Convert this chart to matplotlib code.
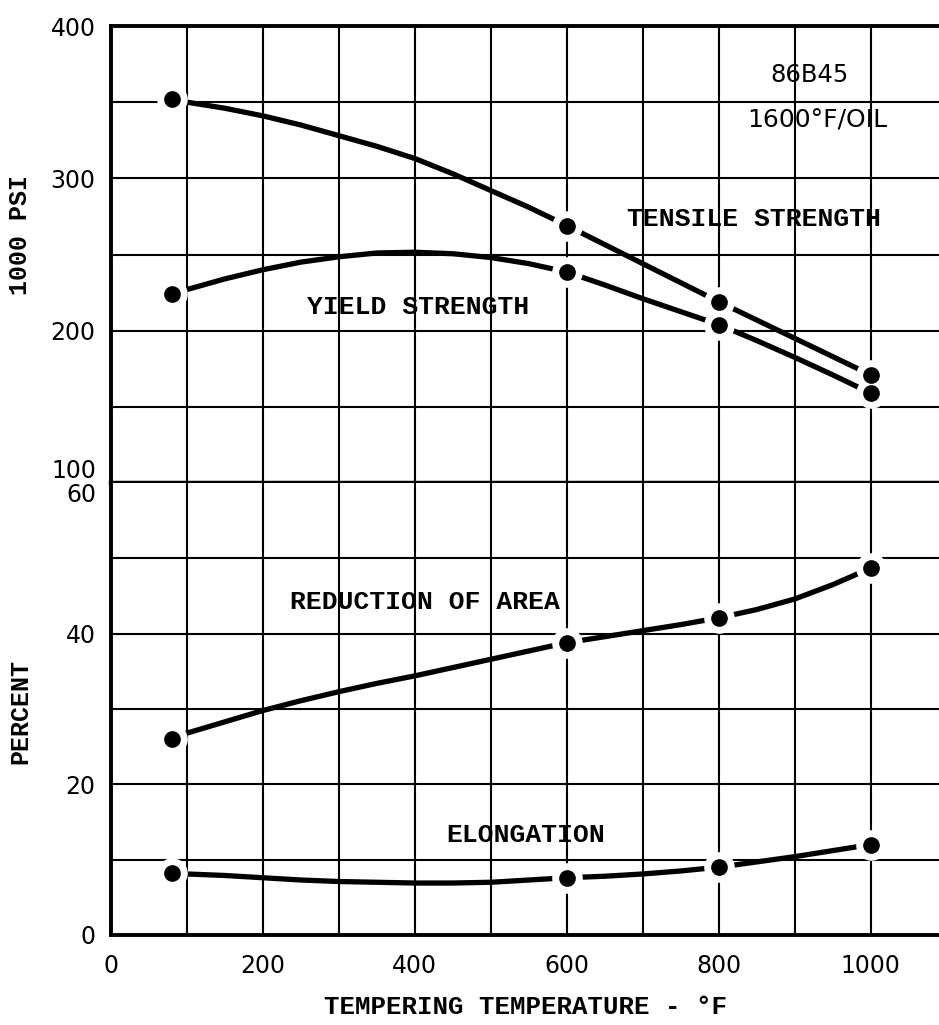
import matplotlib
matplotlib.use("Agg")
import matplotlib.pyplot as plt

# measured points (tempering temperature, deg F)
temps = [80, 600, 800, 1000]
tensile = [352, 269, 219, 171]
yield_strength = [224, 238.5, 204, 159]
reduction_area = [26, 38.8, 42.1, 48.7]
elongation = [8.2, 7.6, 9.0, 12.0]

# faired curves as drawn on the sheet
curve_temps = [80, 100, 150, 200, 250, 300, 350, 400, 450, 500,
               550, 600, 650, 700, 750, 800, 850, 900, 950, 1000]
tensile_curve = [352, 350, 346, 341, 335, 328, 321, 313, 303, 292,
                 281, 269, 256.5, 244, 231.5, 219, 207, 195, 183, 171]
yield_curve = [224, 227, 234, 240, 245, 248.5, 251, 251.5, 250.5, 248,
               244, 238.5, 230, 221, 212.5, 204, 193.5, 182.5, 171, 159]
reduction_curve = [26, 26.8, 28.3, 29.8, 31.1, 32.3, 33.4, 34.4, 35.5, 36.6,
                   37.7, 38.8, 39.6, 40.4, 41.2, 42.1, 43.2, 44.6, 46.5, 48.7]
elongation_curve = [8.2, 8.1, 7.9, 7.6, 7.3, 7.1, 7.0, 6.9, 6.9, 7.0,
                    7.3, 7.6, 7.8, 8.1, 8.5, 9.0, 9.7, 10.4, 11.2, 12.0]

x_ticks = [0, 200, 400, 600, 800, 1000]
psi_ticks = [200, 300, 400]
pct_ticks = [0, 20, 40]

NUM_FONT = "DejaVu Sans"
TYPE_FONT = "Liberation Mono"

W, H = 939, 1025
fig = plt.figure(figsize=(W / 100, H / 100), dpi=100)
left = 111 / W
top = 1 - 26 / H
mid = 1 - 483 / H
bot = 1 - 935 / H
ax_top = fig.add_axes([left, mid, 1 - left, top - mid])
ax_bot = fig.add_axes([left, bot, 1 - left, mid - bot], sharex=ax_top)


def style_axis(ax, ylim, ystep):
    ax.set_xlim(0, 1090)
    ax.set_ylim(*ylim)
    for x in range(100, 1100, 100):
        ax.axvline(x, color="black", linewidth=1.5, zorder=1)
    for y in range(ylim[0] + ystep, ylim[1], ystep):
        ax.axhline(y, color="black", linewidth=1.5, zorder=1)
    ax.tick_params(which="both", length=0, labelsize=17, pad=11)
    ax.spines["right"].set_visible(False)
    for s in ["left", "top", "bottom"]:
        ax.spines[s].set_linewidth(2.8)


def draw_curve(ax, cx, cy, px, py):
    ax.plot(cx, cy, color="black", linewidth=3.8, solid_capstyle="round",
            solid_joinstyle="round", zorder=3)
    ax.plot(px, py, "o", color="white", markersize=21, zorder=4)
    ax.plot(px, py, "o", color="black", markersize=11, zorder=5)


style_axis(ax_top, (100, 400), 50)
style_axis(ax_bot, (0, 60), 10)

draw_curve(ax_top, curve_temps, tensile_curve, temps, tensile)
draw_curve(ax_top, curve_temps, yield_curve, temps, yield_strength)
draw_curve(ax_bot, curve_temps, reduction_curve, temps, reduction_area)
draw_curve(ax_bot, curve_temps, elongation_curve, temps, elongation)

ax_top.set_yticks(psi_ticks)
ax_top.set_yticklabels([str(v) for v in psi_ticks], fontfamily=NUM_FONT)
ax_top.tick_params(axis="x", labelbottom=False)
ax_top.spines["bottom"].set_linewidth(3.2)

ax_bot.set_yticks(pct_ticks)
ax_bot.set_yticklabels([str(v) for v in pct_ticks], fontfamily=NUM_FONT)
ax_bot.set_xticks(x_ticks)
ax_bot.set_xticklabels([str(v) for v in x_ticks], fontfamily=NUM_FONT)
ax_bot.tick_params(axis="x", pad=14)
ax_bot.spines["top"].set_visible(False)

# the shared 100 / 60 labels sit either side of the dividing line
ax_top.text(-0.018, 100, "100", transform=ax_top.get_yaxis_transform(),
            ha="right", va="bottom", fontsize=17, fontfamily=NUM_FONT)
ax_bot.text(-0.018, 60, "60", transform=ax_bot.get_yaxis_transform(),
            ha="right", va="top", fontsize=17, fontfamily=NUM_FONT)

ax_bot.set_xlabel("TEMPERING TEMPERATURE - °F", fontsize=18.5, fontfamily=TYPE_FONT,
                  fontweight="bold", labelpad=12)
fig.text(20 / W, 1 - 235 / H, "1000 PSI", rotation=90, ha="center", va="center",
         fontsize=18, fontfamily=TYPE_FONT, fontweight="bold")
fig.text(20 / W, 1 - 712 / H, "PERCENT", rotation=90, ha="center", va="center",
         fontsize=18, fontfamily=TYPE_FONT, fontweight="bold")

# curve labels
lbl = dict(fontsize=19, fontfamily=TYPE_FONT, fontweight="bold", ha="center", va="center")
ax_top.text(846, 273, "TENSILE STRENGTH", **lbl)
ax_top.text(404, 215.5, "YIELD STRENGTH", **lbl)
ax_bot.text(413, 44.2, "REDUCTION OF AREA", **lbl)
ax_bot.text(546, 13.3, "ELONGATION", **lbl)

ax_top.text(920, 368, "86B45", fontsize=17.5, fontfamily=NUM_FONT, ha="center", va="center")
ax_top.text(930, 338, "1600°F/OIL", fontsize=18, fontfamily=NUM_FONT, ha="center", va="center")

fig.savefig("out.png", dpi=100, facecolor="white")
